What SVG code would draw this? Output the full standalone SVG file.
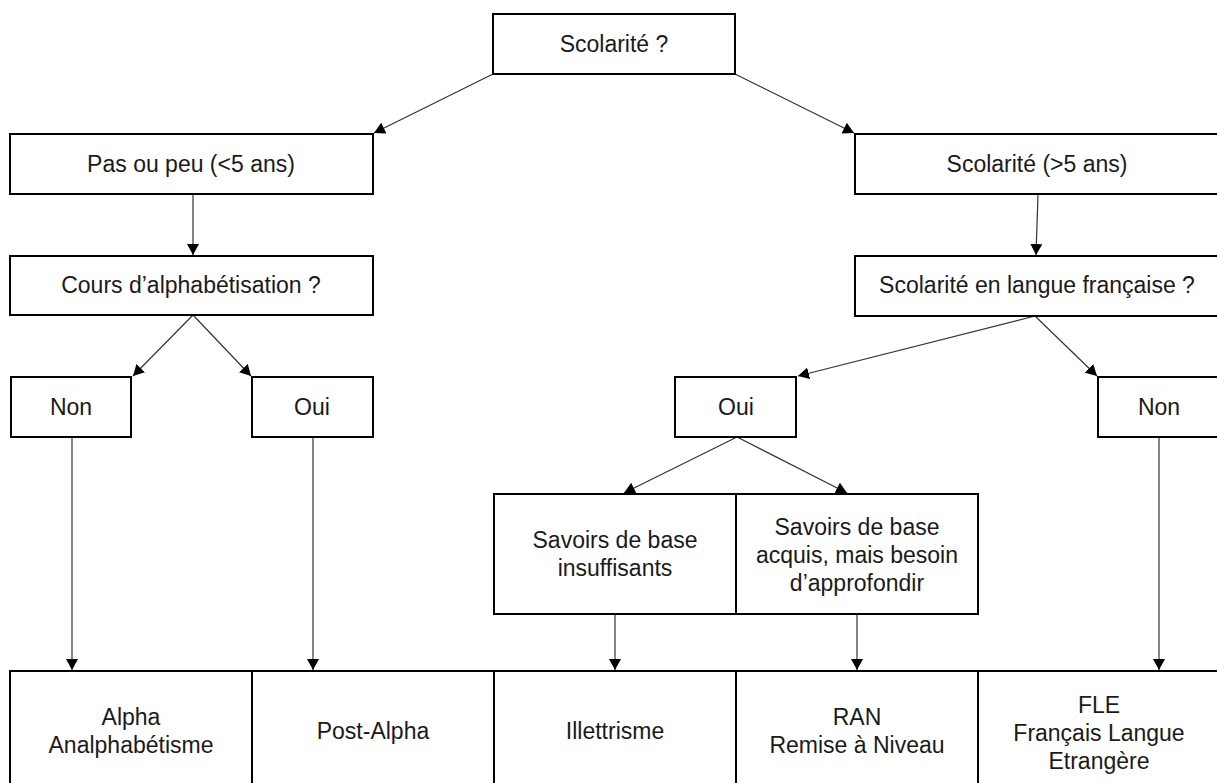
<svg xmlns="http://www.w3.org/2000/svg" width="1217" height="783" viewBox="0 0 1217 783">
<style>
.box{fill:#fff;stroke:#000;stroke-width:2}
.t{font-family:"Liberation Sans",Arial,sans-serif;font-size:23px;fill:#1a1a1a;text-anchor:middle}
.c{fill:none;stroke:#333;stroke-width:1.2;marker-end:url(#ah)}
</style>
<defs>
<marker id="ah" markerUnits="userSpaceOnUse" markerWidth="12" markerHeight="12" refX="11" refY="6" orient="auto">
<path d="M0,0 L11,6 L0,12 z" fill="#000"/>
</marker>
</defs>
<rect width="1217" height="783" fill="#fff"/>
<g id="connectors">
<line class="c" x1="493" y1="74" x2="374" y2="133"/>
<line class="c" x1="735" y1="74" x2="854" y2="133"/>
<line class="c" x1="193" y1="194" x2="193" y2="255"/>
<line class="c" x1="1038" y1="194" x2="1036" y2="255"/>
<line class="c" x1="193" y1="315" x2="133" y2="376"/>
<line class="c" x1="193" y1="315" x2="251" y2="376"/>
<line class="c" x1="1035" y1="316" x2="798" y2="376"/>
<line class="c" x1="1035" y1="316" x2="1097" y2="376"/>
<line class="c" x1="737" y1="437" x2="624" y2="493"/>
<line class="c" x1="737" y1="437" x2="847" y2="493"/>
<line class="c" x1="72" y1="437" x2="72" y2="670"/>
<line class="c" x1="313" y1="437" x2="313" y2="670"/>
<line class="c" x1="615" y1="614" x2="615" y2="670"/>
<line class="c" x1="857" y1="614" x2="857" y2="670"/>
<line class="c" x1="1159" y1="437" x2="1159" y2="670"/>
</g>
<g id="n-scolarite"><rect class="box" x="493" y="14" width="242" height="60"/><text class="t" x="614" y="52">Scolarité ?</text></g>
<g id="n-pasoupeu"><rect class="box" x="10" y="134" width="363" height="60"/><text class="t" x="191" y="172">Pas ou peu (&lt;5 ans)</text></g>
<g id="n-scol5"><rect class="box" x="855" y="134" width="364" height="60"/><text class="t" x="1037" y="172">Scolarité (&gt;5 ans)</text></g>
<g id="n-cours"><rect class="box" x="10" y="256" width="363" height="59"/><text class="t" x="191" y="293">Cours d’alphabétisation ?</text></g>
<g id="n-langue"><rect class="box" x="855" y="256" width="364" height="60"/><text class="t" x="1037" y="293">Scolarité en langue française ?</text></g>
<g id="n-non1"><rect class="box" x="11" y="377" width="120" height="60"/><text class="t" x="71" y="415">Non</text></g>
<g id="n-oui1"><rect class="box" x="252" y="377" width="121" height="60"/><text class="t" x="312" y="415">Oui</text></g>
<g id="n-oui2"><rect class="box" x="675" y="377" width="121" height="60"/><text class="t" x="736" y="415">Oui</text></g>
<g id="n-non2"><rect class="box" x="1098" y="377" width="122" height="60"/><text class="t" x="1159" y="415">Non</text></g>
<g id="n-savoirs1"><rect class="box" x="494" y="494" width="242" height="120"/><text class="t" x="615" y="548">Savoirs de base</text><text class="t" x="615" y="576">insuffisants</text></g>
<g id="n-savoirs2"><rect class="box" x="736" y="494" width="242" height="120"/><text class="t" x="857" y="535">Savoirs de base</text><text class="t" x="857" y="563">acquis, mais besoin</text><text class="t" x="857" y="591">d’approfondir</text></g>
<g id="n-alpha"><rect class="box" x="10" y="671" width="242" height="124"/><text class="t" x="131" y="725">Alpha</text><text class="t" x="131" y="753">Analphabétisme</text></g>
<g id="n-postalpha"><rect class="box" x="252" y="671" width="242" height="124"/><text class="t" x="373" y="739">Post-Alpha</text></g>
<g id="n-illettrisme"><rect class="box" x="494" y="671" width="242" height="124"/><text class="t" x="615" y="739">Illettrisme</text></g>
<g id="n-ran"><rect class="box" x="736" y="671" width="242" height="124"/><text class="t" x="857" y="725">RAN</text><text class="t" x="857" y="753">Remise à Niveau</text></g>
<g id="n-fle"><rect class="box" x="978" y="671" width="242" height="124"/><text class="t" x="1099" y="713">FLE</text><text class="t" x="1099" y="741">Français Langue</text><text class="t" x="1099" y="769">Etrangère</text></g>
</svg>
